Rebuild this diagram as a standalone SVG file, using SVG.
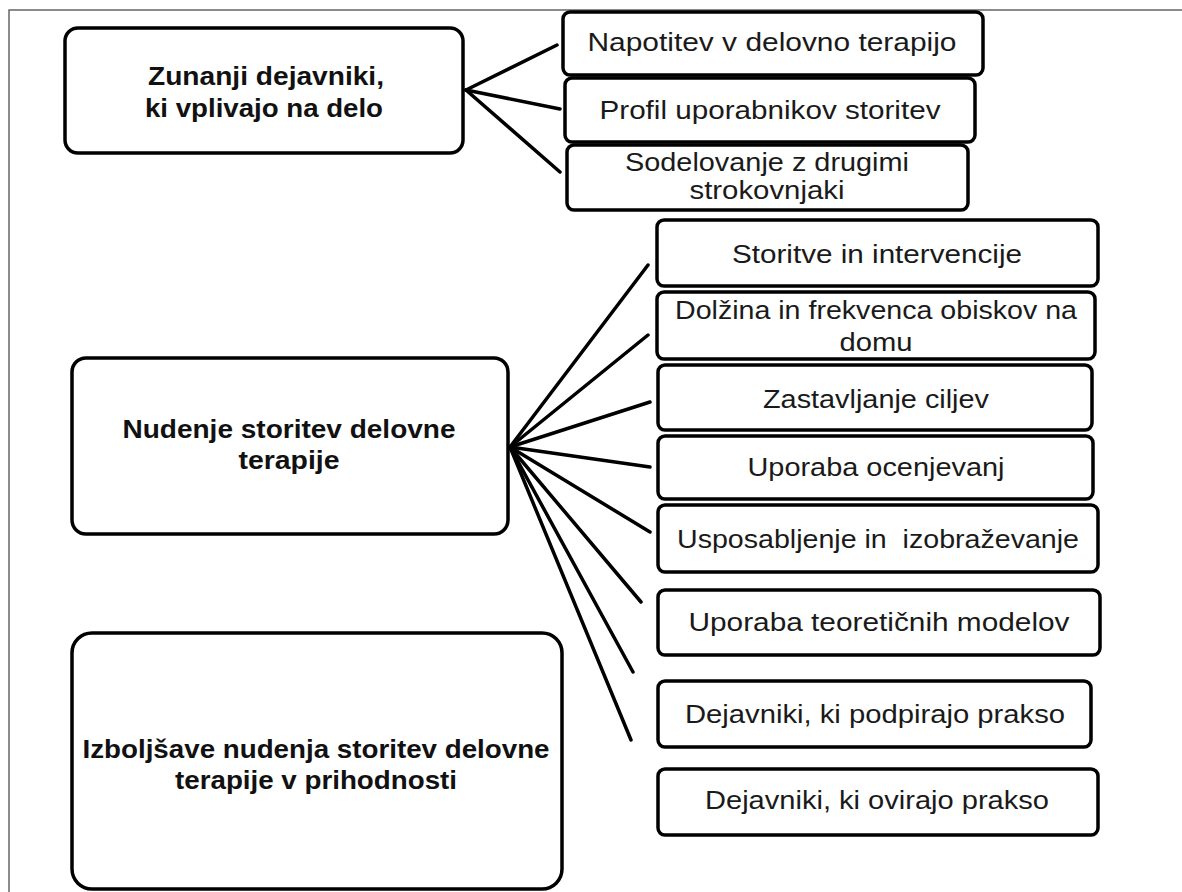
<svg xmlns="http://www.w3.org/2000/svg" width="1182" height="892" viewBox="0 0 1182 892">
<style>
.box{fill:#fff;stroke:#000;stroke-width:3.5}
.t{font-family:"Liberation Sans",Arial,sans-serif;font-size:25px;fill:#1a1a1a;text-anchor:middle}
.b{font-family:"Liberation Sans",Arial,sans-serif;font-size:25px;font-weight:bold;fill:#111;text-anchor:middle}
.c{stroke:#000;stroke-width:3.5;fill:none;stroke-linecap:round}
.frame{stroke:#666;stroke-width:1.5;fill:none}
</style>
<rect width="1182" height="892" fill="#fff"/>
<path class="frame" d="M9,892 V10 H1182"/>
<g id="connectors">
<line class="c" x1="466" y1="90" x2="557" y2="45"/>
<line class="c" x1="466" y1="90" x2="560" y2="109"/>
<line class="c" x1="466" y1="90" x2="560" y2="172"/>
<line class="c" x1="510" y1="447" x2="648" y2="265"/>
<line class="c" x1="510" y1="447" x2="648" y2="335"/>
<line class="c" x1="510" y1="447" x2="650" y2="402"/>
<line class="c" x1="510" y1="447" x2="650" y2="467"/>
<line class="c" x1="510" y1="447" x2="650" y2="532"/>
<line class="c" x1="510" y1="447" x2="641" y2="602"/>
<line class="c" x1="510" y1="447" x2="633" y2="672"/>
<line class="c" x1="510" y1="447" x2="631" y2="740"/>
</g>
<g id="zunanji">
<rect class="box" x="65" y="28" width="398" height="125" rx="13"/>
<text class="b" x="266" y="85" textLength="236" lengthAdjust="spacingAndGlyphs">Zunanji dejavniki,</text>
<text class="b" x="264" y="117" textLength="238" lengthAdjust="spacingAndGlyphs">ki vplivajo na delo</text>
</g>
<g id="napotitev">
<rect class="box" x="563" y="12" width="420" height="63" rx="7"/>
<text class="t" x="772" y="51" textLength="369" lengthAdjust="spacingAndGlyphs">Napotitev v delovno terapijo</text>
</g>
<g id="profil">
<rect class="box" x="565" y="78" width="410" height="64" rx="7"/>
<text class="t" x="770" y="119" textLength="341" lengthAdjust="spacingAndGlyphs">Profil uporabnikov storitev</text>
</g>
<g id="sodelovanje">
<rect class="box" x="567" y="145" width="401" height="65" rx="7"/>
<text class="t" x="767" y="171" textLength="284" lengthAdjust="spacingAndGlyphs">Sodelovanje z drugimi</text>
<text class="t" x="767" y="199" textLength="155" lengthAdjust="spacingAndGlyphs">strokovnjaki</text>
</g>
<g id="nudenje">
<rect class="box" x="72" y="358" width="436" height="176" rx="14"/>
<text class="b" x="289" y="438" textLength="333" lengthAdjust="spacingAndGlyphs">Nudenje storitev delovne</text>
<text class="b" x="289" y="469" textLength="101" lengthAdjust="spacingAndGlyphs">terapije</text>
</g>
<g id="izboljsave">
<rect class="box" x="72" y="633" width="490" height="256" rx="20"/>
<text class="b" x="316" y="758" textLength="467" lengthAdjust="spacingAndGlyphs">Izboljšave nudenja storitev delovne</text>
<text class="b" x="316" y="789" textLength="282" lengthAdjust="spacingAndGlyphs">terapije v prihodnosti</text>
</g>
<g id="storitve">
<rect class="box" x="657" y="220" width="441" height="66" rx="7"/>
<text class="t" x="877" y="263" textLength="290" lengthAdjust="spacingAndGlyphs">Storitve in intervencije</text>
</g>
<g id="dolzina">
<rect class="box" x="657" y="292" width="438" height="67" rx="7"/>
<text class="t" x="876" y="319" textLength="402" lengthAdjust="spacingAndGlyphs">Dolžina in frekvenca obiskov na</text>
<text class="t" x="876" y="351" textLength="73" lengthAdjust="spacingAndGlyphs">domu</text>
</g>
<g id="zastavljanje">
<rect class="box" x="658" y="365" width="434" height="65" rx="7"/>
<text class="t" x="876" y="408" textLength="226" lengthAdjust="spacingAndGlyphs">Zastavljanje ciljev</text>
</g>
<g id="ocenjevanj">
<rect class="box" x="658" y="436" width="435" height="63" rx="7"/>
<text class="t" x="876" y="476" textLength="257" lengthAdjust="spacingAndGlyphs">Uporaba ocenjevanj</text>
</g>
<g id="usposabljenje">
<rect class="box" x="658" y="505" width="440" height="67" rx="7"/>
<text class="t" x="878" y="548" textLength="402" lengthAdjust="spacingAndGlyphs" xml:space="preserve">Usposabljenje in  izobraževanje</text>
</g>
<g id="teoreticnih">
<rect class="box" x="658" y="590" width="442" height="65" rx="7"/>
<text class="t" x="879" y="631" textLength="381" lengthAdjust="spacingAndGlyphs">Uporaba teoretičnih modelov</text>
</g>
<g id="podpirajo">
<rect class="box" x="658" y="681" width="433" height="66" rx="7"/>
<text class="t" x="875" y="723" textLength="380" lengthAdjust="spacingAndGlyphs">Dejavniki, ki podpirajo prakso</text>
</g>
<g id="ovirajo">
<rect class="box" x="658" y="769" width="440" height="66" rx="7"/>
<text class="t" x="877" y="809" textLength="344" lengthAdjust="spacingAndGlyphs">Dejavniki, ki ovirajo prakso</text>
</g>
</svg>
